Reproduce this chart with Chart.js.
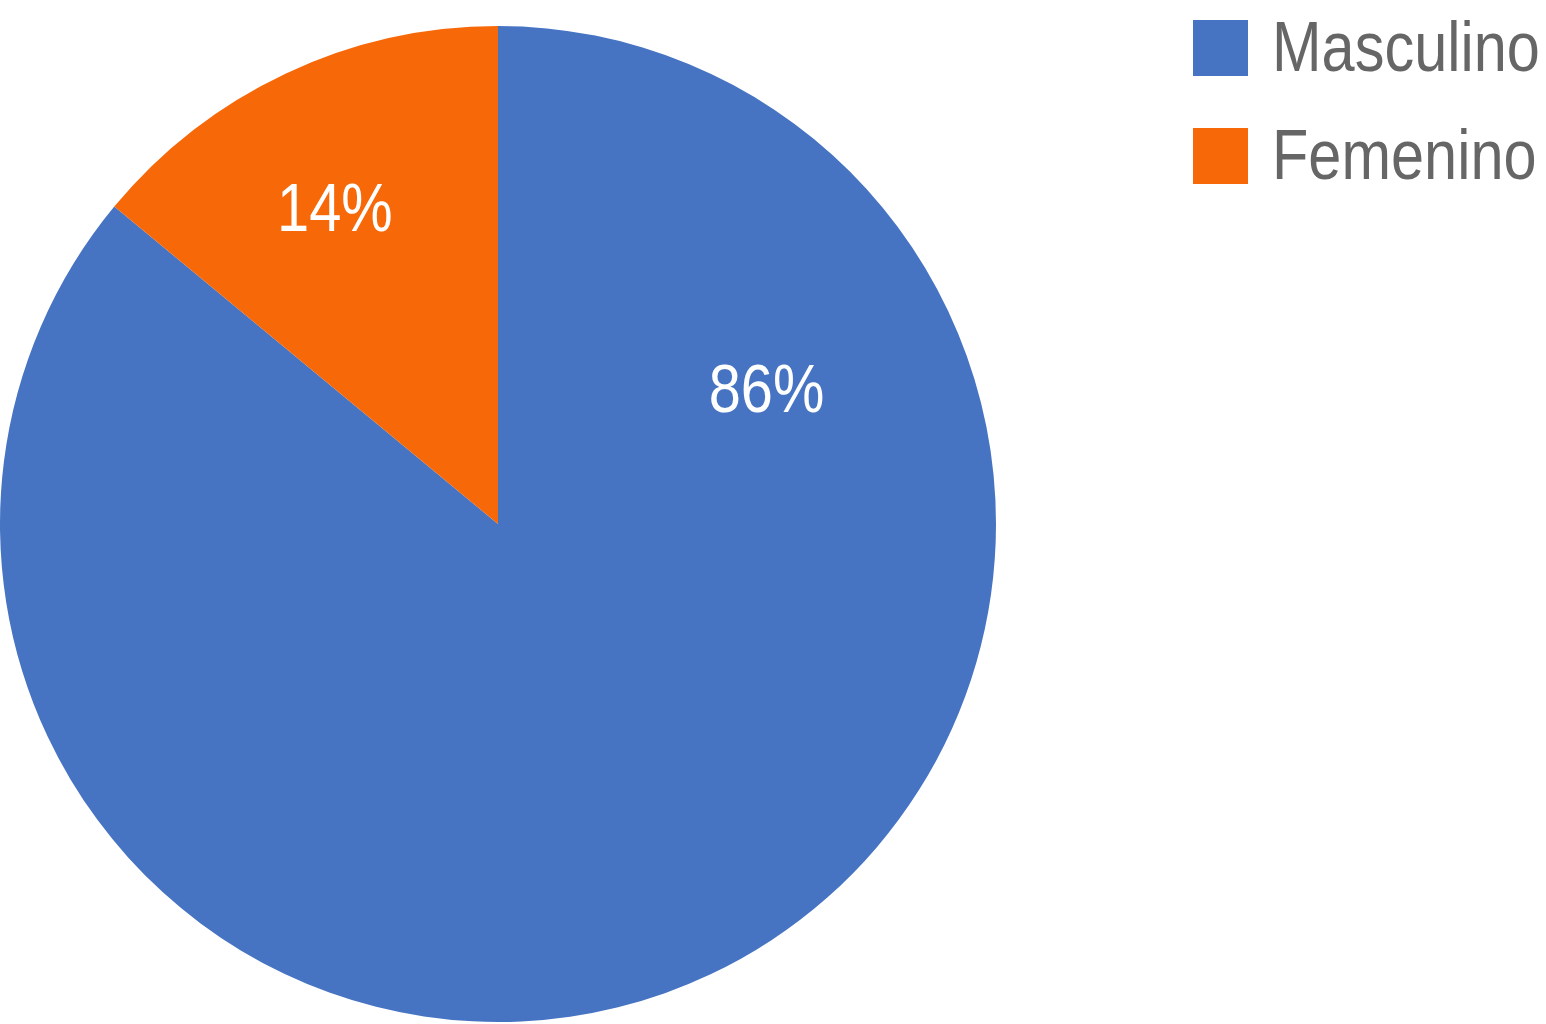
<!DOCTYPE html>
<html>
<head>
<meta charset="utf-8">
<script src="https://cdn.jsdelivr.net/npm/chart.js@4/dist/chart.umd.min.js"></script>
<style>
  html, body { margin: 0; padding: 0; background: #fff; overflow: hidden; }
  #wrap { position: relative; width: 1546px; height: 1024px; }
  #legend { position: absolute; left: 0; top: 0; }
  .item { position: absolute; left: 1193px; white-space: nowrap; }
  .box { position: absolute; left: 0; width: 55px; height: 56px; }
  .txt {
    position: absolute; left: 79px; font: 70px "Liberation Sans", Arial, sans-serif;
    line-height: 70px; color: #666666; transform: scaleX(0.85); transform-origin: left top;
  }
</style>
</head>
<body>
<div id="wrap">
  <canvas id="chart" width="1546" height="1024"></canvas>
  <div id="legend"></div>
</div>
<script>
const LABELS  = ['Masculino', 'Femenino'];
const VALUES  = [86, 14];
const COLORS  = ['#4674c3', '#f76809'];

// where each percentage sits: angle (deg, 0 = 3 o'clock) and fraction of radius
const LABEL_SPOTS = [{ angle: -26, frac: 0.60 }, { angle: -117.6, frac: 0.707 }];

const sliceLabels = {
    id: 'sliceLabels',
    afterDatasetsDraw(chart) {
        const ctx = chart.ctx;
        const total = VALUES.reduce((a, b) => a + b, 0);
        chart.getDatasetMeta(0).data.forEach((arc, i) => {
            const spot = LABEL_SPOTS[i];
            const rad = spot.angle * Math.PI / 180;
            const x = arc.x + Math.cos(rad) * arc.outerRadius * spot.frac;
            const y = arc.y + Math.sin(rad) * arc.outerRadius * spot.frac;
            ctx.save();
            ctx.translate(x, y);
            ctx.scale(0.85, 1);
            ctx.fillStyle = '#ffffff';
            ctx.font = '68px "Liberation Sans", Arial, sans-serif';
            ctx.textAlign = 'center';
            ctx.textBaseline = 'middle';
            ctx.fillText(Math.round(VALUES[i] / total * 100) + '%', 0, 0);
            ctx.restore();
        });
    }
};

new Chart(document.getElementById('chart'), {
    type: 'pie',
    data: {
        labels: LABELS,
        datasets: [{ data: VALUES, backgroundColor: COLORS, borderWidth: 0 }]
    },
    options: {
        responsive: false,
        animation: false,
        layout: { padding: { left: 0, top: 26, right: 550, bottom: 2 } },
        plugins: { legend: { display: false }, tooltip: { enabled: false } }
    },
    plugins: [sliceLabels]
});

const legend = document.getElementById('legend');
LABELS.forEach((label, i) => {
    const item = document.createElement('div');
    item.className = 'item';
    item.style.top = (20 + i * 108) + 'px';
    item.innerHTML = '<div class="box" style="background:' + COLORS[i] + '"></div>' +
                     '<div class="txt" style="top:-8px">' + label + '</div>';
    legend.appendChild(item);
});
</script>
</body>
</html>
